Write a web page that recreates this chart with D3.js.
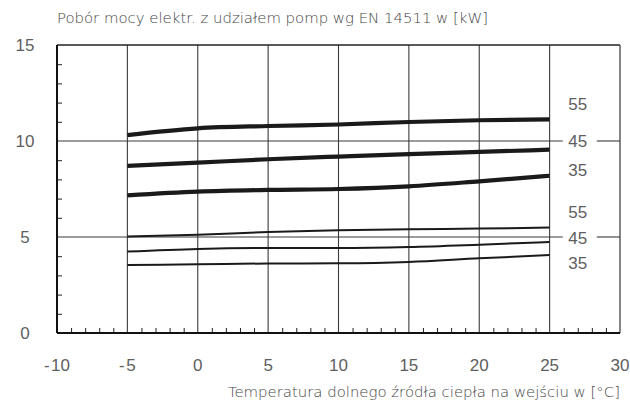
<!DOCTYPE html>
<html>
<head>
<meta charset="utf-8">
<script src="https://cdn.jsdelivr.net/npm/d3@7"></script>
<style>
  body { margin: 0; background: #fff; }
  text { font-family: "Liberation Sans", Arial, sans-serif; fill: #5e5e5e; }
  text.caption { font-family: "DejaVu Sans", sans-serif; font-weight: 200; fill: #444; }
</style>
</head>
<body>
<div id="chart"></div>
<script>
// x values (temperatura dolnego źródła)
const temps = [-5, 0, 5, 10, 15, 20, 25];

// thick lines (upper group)
const thick55 = [10.31, 10.66, 10.78, 10.86, 10.99, 11.08, 11.13];
const thick45 = [8.70, 8.87, 9.05, 9.19, 9.32, 9.43, 9.55];
const thick35 = [7.17, 7.36, 7.45, 7.50, 7.64, 7.90, 8.19];

// thin lines (lower group)
const thin55 = [5.02, 5.12, 5.26, 5.35, 5.40, 5.44, 5.49];
const thin45 = [4.24, 4.38, 4.43, 4.43, 4.48, 4.60, 4.74];
const thin35 = [3.54, 3.58, 3.62, 3.63, 3.70, 3.89, 4.06];

const xTicks = [-10, -5, 0, 5, 10, 15, 20, 25, 30];
const yTicks = [0, 5, 10, 15];

const title = "Pobór mocy elektr. z udziałem pomp wg EN 14511 w [kW]";
const xTitle = "Temperatura dolnego źródła ciepła na wejściu w [°C]";

const series = [
  { name: "55", values: thick55, thick: true },
  { name: "45", values: thick45, thick: true },
  { name: "35", values: thick35, thick: true },
  { name: "55", values: thin55, thick: false },
  { name: "45", values: thin45, thick: false },
  { name: "35", values: thin35, thick: false },
];

const width = 630, height = 401;
const margin = { top: 45, right: 10, bottom: 68, left: 57 };

const svg = d3.select("#chart").append("svg")
  .attr("width", width).attr("height", height);

const xScale = d3.scaleLinear([-10, 30], [margin.left, width - margin.right]);
const yScale = d3.scaleLinear([0, 15], [height - margin.bottom, margin.top]);

// title
svg.append("text")
  .attr("class", "caption")
  .attr("x", margin.left).attr("y", 23)
  .style("font-size", "14.9px")
  .text(title);

// vertical gridlines
svg.append("g").selectAll("line")
  .data([-5, 0, 5, 10, 15, 20, 25])
  .join("line")
  .attr("x1", d => xScale(d)).attr("x2", d => xScale(d))
  .attr("y1", yScale(15)).attr("y2", yScale(0))
  .attr("stroke", "#3a3a3a").attr("stroke-width", 1.1);

// horizontal gridlines at 5 and 10, broken where the "45" labels sit
const labelX = xScale(27);
[5, 10].forEach(v => {
  svg.append("line")
    .attr("x1", xScale(-10)).attr("x2", labelX - 15)
    .attr("y1", yScale(v)).attr("y2", yScale(v))
    .attr("stroke", "#3a3a3a").attr("stroke-width", 1.1);
  svg.append("line")
    .attr("x1", labelX + 19).attr("x2", xScale(30))
    .attr("y1", yScale(v)).attr("y2", yScale(v))
    .attr("stroke", "#3a3a3a").attr("stroke-width", 1.1);
});

// minor ticks
const xAxis = d3.axisTop(xScale).tickValues(d3.range(-9, 30).filter(d => d % 5 !== 0))
  .tickSize(5).tickFormat("");
svg.append("g").attr("transform", `translate(0,${yScale(0)})`).call(xAxis)
  .call(g => g.select(".domain").remove())
  .call(g => g.selectAll("line").attr("stroke", "#222"));

const yAxis = d3.axisRight(yScale).tickValues(d3.range(1, 15).filter(d => d % 5 !== 0))
  .tickSize(5).tickFormat("");
svg.append("g").attr("transform", `translate(${xScale(-10)},0)`).call(yAxis)
  .call(g => g.select(".domain").remove())
  .call(g => g.selectAll("line").attr("stroke", "#222"));

// frame
svg.append("line").attr("x1", xScale(-10)).attr("x2", xScale(30))
  .attr("y1", yScale(15)).attr("y2", yScale(15))
  .attr("stroke", "#222").attr("stroke-width", 1.5);
svg.append("line").attr("x1", xScale(30)).attr("x2", xScale(30))
  .attr("y1", yScale(15)).attr("y2", yScale(0))
  .attr("stroke", "#444").attr("stroke-width", 1.3);
svg.append("line").attr("x1", xScale(-10)).attr("x2", xScale(30))
  .attr("y1", yScale(0)).attr("y2", yScale(0))
  .attr("stroke", "#111").attr("stroke-width", 2);
svg.append("line").attr("x1", xScale(-10)).attr("x2", xScale(-10))
  .attr("y1", yScale(15)).attr("y2", yScale(0))
  .attr("stroke", "#111").attr("stroke-width", 2);

// tick labels
svg.append("g").selectAll("text")
  .data(xTicks).join("text")
  .attr("x", d => xScale(d)).attr("y", 371)
  .attr("text-anchor", "middle")
  .style("font-size", "17px")
  .text(d => d < 0 ? "-\u200a" + Math.abs(d) : d);

svg.append("g").selectAll("text")
  .data(yTicks).join("text")
  .attr("x", 25).attr("y", d => yScale(d) + 6)
  .attr("text-anchor", "middle")
  .style("font-size", "17px")
  .text(d => d);

// x axis title
svg.append("text")
  .attr("class", "caption")
  .attr("x", xScale(30)).attr("y", 397)
  .attr("text-anchor", "end")
  .style("font-size", "14.9px")
  .text(xTitle);

// lines
const line = d3.line()
  .curve(d3.curveMonotoneX)
  .x((d, i) => xScale(temps[i]))
  .y(d => yScale(d));

svg.append("g").selectAll("path")
  .data(series).join("path")
  .attr("d", d => line(d.values))
  .attr("fill", "none")
  .attr("stroke", "#1a1a1a")
  .attr("stroke-width", d => d.thick ? 4.2 : 2)
  .attr("stroke-linecap", "butt");

// series labels (offset from the line end, in data units)
const labelShift = [0.8, 0.45, 0.3, 0.8, 0.2, -0.4];
svg.append("g").selectAll("text")
  .data(series).join("text")
  .attr("x", labelX)
  .attr("y", (d, i) => yScale(d.values[d.values.length - 1] + labelShift[i]) + 6)
  .attr("text-anchor", "middle")
  .style("font-size", "17px")
  .text(d => d.name);
</script>
</body>
</html>
